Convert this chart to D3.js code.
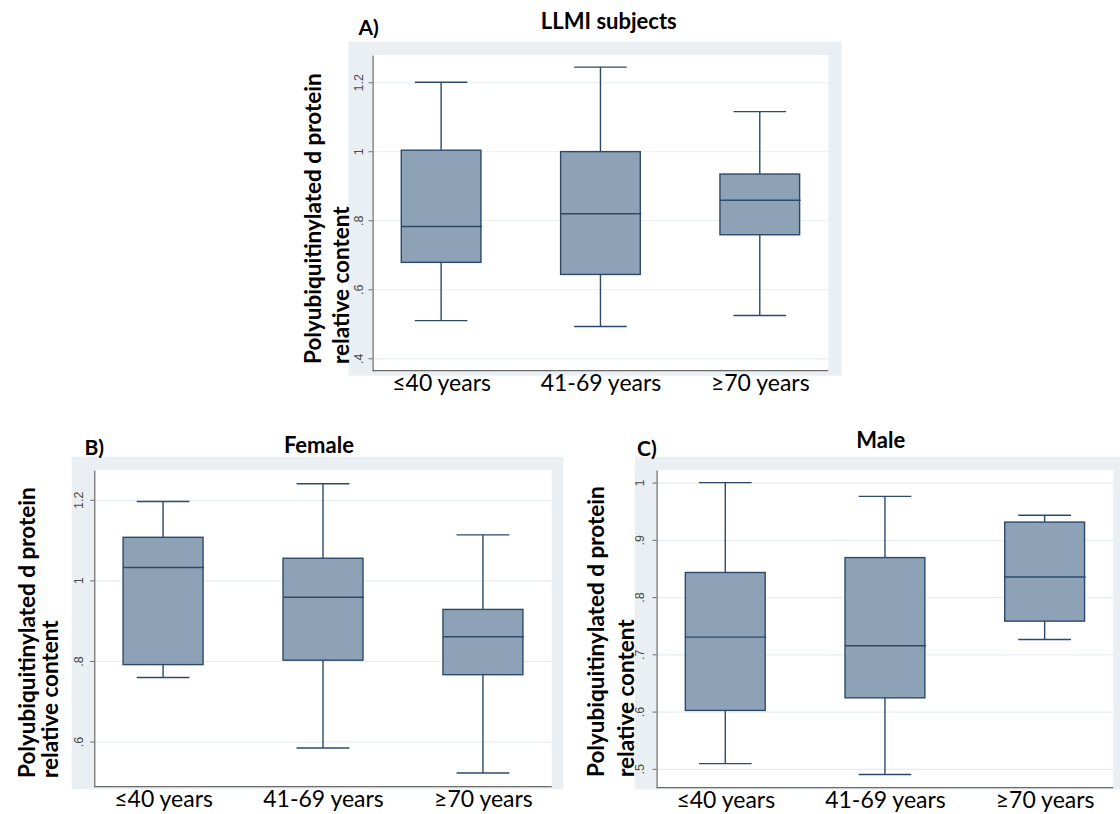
<!DOCTYPE html>
<html>
<head>
<meta charset="utf-8">
<script src="https://cdn.jsdelivr.net/npm/d3@7"></script>
<style>
  html, body { margin: 0; padding: 0; background: #ffffff; }
  svg { display: block; }
</style>
</head>
<body>
<svg id="chart" width="1120" height="814"></svg>
<script>
// Age groups shared by every panel
const categories = ["≤40 years", "41-69 years", "≥70 years"];

// Box summaries per age group: [lower whisker, Q1, median, Q3, upper whisker]
const llmiStats = [
  [0.509, 0.678, 0.782, 1.003, 1.200],
  [0.492, 0.643, 0.819, 0.999, 1.244],
  [0.524, 0.758, 0.858, 0.934, 1.115]
];
const femaleStats = [
  [0.759, 0.791, 1.032, 1.107, 1.196],
  [0.584, 0.802, 0.958, 1.055, 1.240],
  [0.522, 0.766, 0.860, 0.928, 1.113]
];
const maleStats = [
  [0.509, 0.602, 0.730, 0.843, 1.000],
  [0.490, 0.624, 0.715, 0.869, 0.976],
  [0.726, 0.758, 0.835, 0.931, 0.943]
];

// Y-axis tick values per panel
const llmiTicks = [0.4, 0.6, 0.8, 1, 1.2];
const femaleTicks = [0.6, 0.8, 1, 1.2];
const maleTicks = [0.5, 0.6, 0.7, 0.8, 0.9, 1];

// Panel titles and letters
const panelTitles = ["LLMI subjects", "Female", "Male"];
const panelLetters = ["A)", "B)", "C)"];
const yTitleLines = ["Polyubiquitinylated d protein", "relative content"];

const svg = d3.select("#chart");

const COLORS = {
  region: "#e9eff2",
  plot: "#ffffff",
  grid: "#e6edf1",
  axis: "#6b6b6b",
  tickText: "#4a4a4a",
  boxFill: "#8da2b6",
  boxStroke: "#2c4a68",
  text: "#000000"
};

const FONT = "Lato, 'Open Sans', sans-serif";

// Stata-style tick label: drop the leading zero
const tickFmt = v => d3.format("~g")(v).replace(/^0\./, ".");

const panels = [
  {
    stats: llmiStats, ticks: llmiTicks, domain: [0.364, 1.279],
    region: { x0: 348.5, y0: 41.7, x1: 841.7, y1: 375.7 },
    plot: { x0: 372.6, x1: 828.3, y0: 55, y1: 370.7 },
    title: { x: 608.8, y: 28.5 }, letter: { x: 358.5, y: 35 },
    yTitle: { x1: 313.5, x2: 341, yStart: 364 },
    tickLabelX: 358.3
  },
  {
    stats: femaleStats, ticks: femaleTicks, domain: [0.488, 1.274],
    region: { x0: 71.7, y0: 456.7, x1: 563.3, y1: 789 },
    plot: { x0: 94.3, x1: 551.7, y0: 470, y1: 786.7 },
    title: { x: 318.9, y: 453 }, letter: { x: 84.5, y: 455 },
    yTitle: { x1: 26.8, x2: 50, yStart: 778 },
    tickLabelX: 78.3
  },
  {
    stats: maleStats, ticks: maleTicks, domain: [0.467, 1.022],
    region: { x0: 635, y0: 456.7, x1: 1120, y1: 789.5 },
    plot: { x0: 656.6, x1: 1113.3, y0: 470, y1: 787.7 },
    title: { x: 880.7, y: 447.5 }, letter: { x: 637, y: 456 },
    yTitle: { x1: 595.7, x2: 626, yStart: 777 },
    tickLabelX: 640
  }
];

panels.forEach((p, pi) => {
  const g = svg.append("g");
  const w = p.plot.x1 - p.plot.x0;

  // Graph region and plot region backgrounds
  g.append("rect")
    .attr("x", p.region.x0).attr("y", p.region.y0)
    .attr("width", p.region.x1 - p.region.x0)
    .attr("height", p.region.y1 - p.region.y0)
    .attr("fill", COLORS.region);
  g.append("rect")
    .attr("x", p.plot.x0).attr("y", p.plot.y0)
    .attr("width", w).attr("height", p.plot.y1 - p.plot.y0)
    .attr("fill", COLORS.plot);

  const x = d3.scalePoint()
    .domain(categories)
    .range([p.plot.x0, p.plot.x1])
    .padding(0.43);
  const step = x.step();
  const boxW = step * 0.5;
  const capW = step * 0.33;

  const y = d3.scaleLinear()
    .domain(p.domain)
    .range([p.plot.y1, p.plot.y0]);

  // Horizontal gridlines
  g.append("g")
    .attr("transform", `translate(${p.plot.x0},0)`)
    .call(d3.axisLeft(y).tickValues(p.ticks).tickSize(-w).tickFormat(""))
    .call(s => s.select(".domain").remove())
    .call(s => s.selectAll("line").attr("stroke", COLORS.grid).attr("stroke-width", 1.2));

  // Boxes with whiskers
  const boxes = g.append("g").selectAll("g")
    .data(p.stats)
    .join("g")
    .attr("transform", (d, i) => `translate(${x(categories[i])},0)`);

  const stroke = sel => sel.attr("stroke", COLORS.boxStroke).attr("stroke-width", 1.4);

  boxes.append("line")
    .attr("x1", 0).attr("x2", 0)
    .attr("y1", d => y(d[4])).attr("y2", d => y(d[3]))
    .call(stroke);
  boxes.append("line")
    .attr("x1", 0).attr("x2", 0)
    .attr("y1", d => y(d[1])).attr("y2", d => y(d[0]))
    .call(stroke);
  boxes.append("line")
    .attr("x1", -capW / 2).attr("x2", capW / 2)
    .attr("y1", d => y(d[4])).attr("y2", d => y(d[4]))
    .call(stroke);
  boxes.append("line")
    .attr("x1", -capW / 2).attr("x2", capW / 2)
    .attr("y1", d => y(d[0])).attr("y2", d => y(d[0]))
    .call(stroke);
  boxes.append("rect")
    .attr("x", -boxW / 2).attr("width", boxW)
    .attr("y", d => y(d[3]))
    .attr("height", d => y(d[1]) - y(d[3]))
    .attr("fill", COLORS.boxFill)
    .call(stroke);
  boxes.append("line")
    .attr("x1", -boxW / 2).attr("x2", boxW / 2 + 1)
    .attr("y1", d => y(d[2])).attr("y2", d => y(d[2]))
    .call(stroke);

  // Y axis with rotated tick labels
  const yAxis = g.append("g")
    .attr("transform", `translate(${p.plot.x0},0)`)
    .call(d3.axisLeft(y).tickValues(p.ticks).tickSize(4).tickSizeOuter(0).tickFormat(tickFmt));
  yAxis.select(".domain").attr("stroke", COLORS.axis).attr("stroke-width", 1.2);
  yAxis.selectAll(".tick line").attr("stroke", COLORS.axis);
  yAxis.selectAll(".tick text")
    .attr("transform", "rotate(-90)")
    .attr("x", 0)
    .attr("y", p.tickLabelX - p.plot.x0)
    .attr("dy", "0.35em")
    .attr("text-anchor", "middle")
    .attr("fill", COLORS.tickText)
    .style("font-family", "'Liberation Sans', Arial, sans-serif")
    .style("font-size", "12.5px");

  // X axis with category labels
  const xAxis = g.append("g")
    .attr("transform", `translate(0,${p.plot.y1})`)
    .call(d3.axisBottom(x).tickSize(0).tickSizeOuter(0).tickPadding(4));
  xAxis.select(".domain")
    .attr("d", `M${p.plot.x0},0H${p.plot.x1}`)
    .attr("stroke", COLORS.axis).attr("stroke-width", 1.2);
  xAxis.selectAll(".tick text")
    .attr("fill", COLORS.text)
    .style("font-family", FONT)
    .style("font-size", "23px")
    .style("font-weight", "400");

  // Titles
  g.append("text")
    .attr("x", p.title.x).attr("y", p.title.y)
    .attr("text-anchor", "middle")
    .style("font-family", FONT)
    .style("font-size", "22px").style("font-weight", "700")
    .text(panelTitles[pi]);
  g.append("text")
    .attr("x", p.letter.x).attr("y", p.letter.y)
    .style("font-family", FONT)
    .style("font-size", "21px").style("font-weight", "700")
    .text(panelLetters[pi]);

  // Two-line rotated y-axis title
  [p.yTitle.x1, p.yTitle.x2].forEach((tx, li) => {
    g.append("text")
      .attr("transform", `translate(${tx},${p.yTitle.yStart}) rotate(-90)`)
      .attr("dy", "0.35em")
      .attr("text-anchor", "start")
      .style("font-family", FONT)
      .style("font-size", "22.5px").style("font-weight", "700")
      .text(yTitleLines[li]);
  });
});
</script>
</body>
</html>
